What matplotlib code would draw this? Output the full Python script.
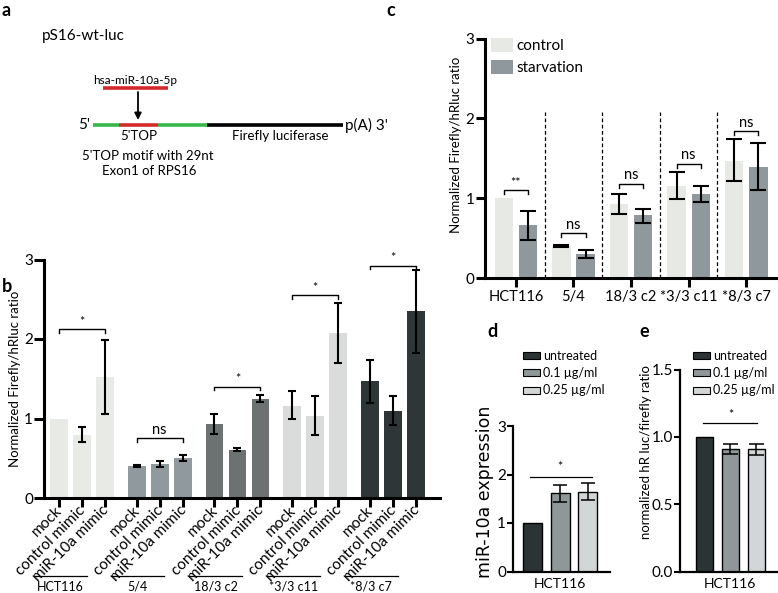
import matplotlib
matplotlib.use('Agg')
import matplotlib.pyplot as plt
from matplotlib.patches import Patch
from matplotlib import font_manager
import numpy as np

plt.rcParams['font.family'] = ['Lato', 'DejaVu Sans']

# ---------------- data ----------------
b_groups = ['HCT116', '5/4', '18/3 c2', '*3/3 c11', '*8/3 c7']
b_conditions = ['mock', 'control mimic', 'miR-10a mimic']
b_means = [[1.00, 0.79, 1.52], [0.40, 0.43, 0.50], [0.93, 0.61, 1.25],
           [1.16, 1.03, 2.07], [1.47, 1.10, 2.35]]
b_lo = [[1.00, 0.70, 1.06], [0.39, 0.39, 0.46], [0.81, 0.59, 1.21],
        [1.00, 0.79, 1.70], [1.20, 0.92, 1.83]]
b_hi = [[1.00, 0.89, 1.99], [0.41, 0.47, 0.54], [1.06, 0.63, 1.29],
        [1.34, 1.28, 2.45], [1.74, 1.28, 2.87]]
b_sig = ['*', 'ns', '*', '*', '*']
b_sig_y = [2.12, 0.75, 1.40, 2.55, 2.92]
b_colors = ['#e8eae5', '#8f999e', '#6c7272', '#d9dcdb', '#2e3637']

c_groups = ['HCT116', '5/4', '18/3 c2', '*3/3 c11', '*8/3 c7']
c_series = ['control', 'starvation']
c_control = [1.00, 0.40, 0.93, 1.15, 1.47]
c_control_lo = [1.00, 0.385, 0.80, 0.99, 1.21]
c_control_hi = [1.00, 0.415, 1.05, 1.33, 1.74]
c_starv = [0.67, 0.30, 0.79, 1.05, 1.39]
c_starv_lo = [0.47, 0.25, 0.69, 0.95, 1.10]
c_starv_hi = [0.84, 0.35, 0.87, 1.15, 1.69]
c_sig = ['**', 'ns', 'ns', 'ns', 'ns']
c_sig_y = [1.10, 0.56, 1.18, 1.43, 1.84]
c_colors = ['#e7eae4', '#8e989d']

dose_labels = ['untreated', '0.1 µg/ml', '0.25 µg/ml']
dose_colors = ['#2b3335', '#8f9798', '#d3d6d6']
d_means = [1.00, 1.61, 1.64]
d_lo = [1.00, 1.43, 1.47]
d_hi = [1.00, 1.79, 1.82]
d_sig_y = 1.95
e_means = [1.00, 0.907, 0.907]
e_lo = [1.00, 0.870, 0.868]
e_hi = [1.00, 0.946, 0.948]
e_sig_y = 1.10

# ---------------- figure ----------------
W, H = 778, 593
fig = plt.figure(figsize=(W / 100, H / 100), dpi=100)


def px_axes(l, t, r, b):
    return fig.add_axes([l / W, 1 - b / H, (r - l) / W, (b - t) / H])


def err_pts(ax, x, means, lo, hi, lw, cap):
    x = np.asarray(x, float)
    m = np.asarray(means, float)
    lo = np.asarray(lo, float)
    hi = np.asarray(hi, float)
    keep = hi > lo
    ax.errorbar(x[keep], m[keep], yerr=[m[keep] - lo[keep], hi[keep] - m[keep]],
                fmt='none', ecolor='black', elinewidth=lw, capsize=cap,
                capthick=lw, zorder=3)


# ---------------- panel a (diagram) ----------------
axa = fig.add_axes([0, 0, 1, 1])
axa.set_xlim(0, W)
axa.set_ylim(H, 0)
axa.axis('off')
axa.patch.set_alpha(0)

axa.text(42, 36, 'pS16-wt-luc', fontsize=11, va='center', ha='left')
axa.text(135, 80, 'hsa-miR-10a-5p', fontsize=8.5, va='center', ha='center')
axa.plot([103, 168], [88, 88], color='#d42a2a', lw=2.6, solid_capstyle='butt')
axa.annotate('', xy=(138, 120), xytext=(138, 92),
             arrowprops=dict(arrowstyle='-|>', color='black', lw=1.3,
                             mutation_scale=10, shrinkA=0, shrinkB=0))
axa.plot([93, 119], [125, 125], color='#35b84a', lw=2.6, solid_capstyle='butt')
axa.plot([119, 158], [125, 125], color='#d42a2a', lw=2.6, solid_capstyle='butt')
axa.plot([158, 207], [125, 125], color='#35b84a', lw=2.6, solid_capstyle='butt')
axa.plot([207, 343], [125, 125], color='black', lw=2.6, solid_capstyle='butt')
axa.text(90, 125, "5'", fontsize=11, va='center', ha='right')
axa.text(345, 125, "p(A) 3'", fontsize=11, va='center', ha='left')
axa.text(139, 136, "5'TOP", fontsize=9.5, va='center', ha='center')
axa.text(280, 136, 'Firefly luciferase', fontsize=9.5, va='center', ha='center')
axa.text(148, 156, "5'TOP motif with 29nt", fontsize=9.5, va='center', ha='center')
axa.text(149, 171, 'Exon1 of RPS16', fontsize=9.5, va='center', ha='center')

# panel letters
for lab, (x, y) in zip('abcde', [(2, 10), (2, 287), (386, 10), (487, 332), (639, 332)]):
    fig.text(x / W, 1 - y / H, lab, fontsize=13, fontweight='bold', va='center', ha='left')

# ---------------- panel b ----------------
axb = px_axes(44, 259.5, 440, 498)
gstep = 3.38
xb_all, lab_all = [], []
for i, g in enumerate(b_groups):
    xs = i * gstep + np.arange(3)
    axb.bar(xs, b_means[i], width=0.78, color=b_colors[i], zorder=2)
    err_pts(axb, xs, b_means[i], b_lo[i], b_hi[i], 1.5, 3.2)
    xb_all += list(xs)
    lab_all += b_conditions
    y = b_sig_y[i]
    axb.plot([xs[0], xs[0], xs[2], xs[2]], [y - 0.045, y, y, y - 0.045],
             color='black', lw=1.0, clip_on=False)
    if b_sig[i] == 'ns':
        axb.text((xs[0] + xs[2]) / 2, y + 0.02, 'ns', fontsize=10.5,
                 ha='center', va='bottom', clip_on=False)
    else:
        axb.text((xs[0] + xs[2]) / 2, y + 0.02, '*', fontsize=9,
                 ha='center', va='bottom', clip_on=False)
    cx = xs[1] - 0.95
    trans = axb.get_xaxis_transform()
    axb.plot([cx - 1.15, cx + 1.15], [-0.329, -0.329], transform=trans,
             color='black', lw=0.9, clip_on=False)
    axb.text(cx, -0.347, g, transform=trans, fontsize=9, ha='center', va='top')

axb.set_xlim((44 - 59) / 23, (440 - 59) / 23)
axb.set_ylim(0, 3)
axb.set_yticks([0, 1, 2, 3])
axb.set_xticks(xb_all)
axb.set_xticklabels(lab_all, rotation=45, ha='right', va='center_baseline',
                    rotation_mode='anchor', fontsize=7.3)
for s in ['top', 'right']:
    axb.spines[s].set_visible(False)
for s in ['left', 'bottom']:
    axb.spines[s].set_linewidth(2.2)
axb.tick_params(axis='both', direction='out', length=7, width=2.2, labelsize=11, pad=1)
axb.tick_params(axis='x', length=6.5, pad=0)
axb.set_ylabel('Normalized Firefly/hRluc ratio', fontsize=9.5)
axb.yaxis.set_label_coords(-0.058, 0.5)

# ---------------- panel c ----------------
axc = px_axes(485, 38.5, 777, 278)
xc = np.arange(len(c_groups))
off = 0.21
axc.bar(xc - off, c_control, width=0.32, color=c_colors[0], zorder=2, label=c_series[0])
axc.bar(xc + off, c_starv, width=0.32, color=c_colors[1], zorder=2, label=c_series[1])
err_pts(axc, xc - off, c_control, c_control_lo, c_control_hi, 1.5, 5.8)
err_pts(axc, xc + off, c_starv, c_starv_lo, c_starv_hi, 1.5, 5.8)
axc.vlines(xc[:-1] + 0.5, 0, 2.08, colors='black', linestyles=(0, (3, 2)), lw=0.9)
for i in range(len(c_groups)):
    y = c_sig_y[i]
    axc.plot([xc[i] - off, xc[i] - off, xc[i] + off, xc[i] + off],
             [y - 0.05, y, y, y - 0.05], color='black', lw=1.0)
    axc.text(xc[i], y + 0.02, c_sig[i], fontsize=10.5 if c_sig[i] == 'ns' else 9,
             ha='center', va='bottom')
axc.set_xlim((485 - 515.85) / 57.6, (777 - 515.85) / 57.6)
axc.set_ylim(0, 3)
axc.set_yticks([0, 1, 2, 3])
axc.set_xticks(xc)
axc.set_xticklabels(c_groups, fontsize=10.5)
for s in ['top', 'right']:
    axc.spines[s].set_visible(False)
for s in ['left', 'bottom']:
    axc.spines[s].set_linewidth(2.2)
axc.tick_params(axis='both', direction='out', length=6.5, width=2.2, labelsize=11, pad=1)
axc.tick_params(axis='x', labelsize=10.5, pad=2)
axc.set_ylabel('Normalized Firefly/hRluc ratio', fontsize=9.5)
axc.yaxis.set_label_coords(-0.08, 0.555)
axc.legend(loc='upper left', bbox_to_anchor=(491 / W, 1 - 38 / H),
           bbox_transform=fig.transFigure, frameon=False, fontsize=11,
           handlelength=1.45, handleheight=1.0, handletextpad=0.2,
           labelspacing=0.45, borderpad=0, borderaxespad=0)

# ---------------- panel d ----------------
axd = px_axes(513, 426, 610, 571.5)
xd = np.arange(3)
axd.bar(xd, d_means, width=0.69, color=dose_colors, edgecolor='black', lw=1.0, zorder=2)
err_pts(axd, xd, d_means, d_lo, d_hi, 1.1, 4.7)
axd.plot([xd[0] - 0.1, xd[2] + 0.15], [d_sig_y, d_sig_y], color='black', lw=0.9)
axd.text((xd[0] + xd[2]) / 2, d_sig_y + 0.08, '*', fontsize=9, ha='center', va='bottom')
axd.set_xlim((513 - 532.5) / 27.7, (610 - 532.5) / 27.7)
axd.set_ylim(0, 3)
axd.set_yticks([0, 1, 2, 3])
axd.set_xticks([1])
axd.set_xticklabels(['HCT116'], fontsize=10)
axd.tick_params(axis='x', length=0, pad=5)
axd.tick_params(axis='y', direction='out', length=4, width=1.5, labelsize=11, pad=1)
for s in ['top', 'right']:
    axd.spines[s].set_visible(False)
for s in ['left', 'bottom']:
    axd.spines[s].set_linewidth(1.6)
dv_path = font_manager.findfont(font_manager.FontProperties(family='DejaVu Sans'))
dv_font = font_manager.FontProperties(fname=dv_path, size=12.5)
axd.set_ylabel('miR-10a expression', fontproperties=dv_font)
axd.yaxis.set_label_coords(-0.2, 0.55)
hd = [Patch(facecolor=c, edgecolor='black', lw=0.8) for c in dose_colors]
axd.legend(hd, dose_labels, loc='upper left', bbox_to_anchor=(523 / W, 1 - 350 / H),
           bbox_transform=fig.transFigure, frameon=False, fontsize=9,
           handlelength=1.35, handleheight=0.5, handletextpad=0.25,
           labelspacing=0.42, borderpad=0, borderaxespad=0)

# ---------------- panel e ----------------
axe = px_axes(680, 369.5, 777, 571.5)
xe = np.arange(3)
axe.bar(xe, e_means, width=0.66, color=dose_colors, edgecolor='black', lw=1.0, zorder=2)
err_pts(axe, xe, e_means, e_lo, e_hi, 1.1, 5.4)
axe.plot([xe[0] - 0.07, xe[2] + 0.03], [e_sig_y, e_sig_y], color='black', lw=0.9)
axe.text((xe[0] + xe[2]) / 2, e_sig_y + 0.02, '*', fontsize=9, ha='center', va='bottom')
axe.set_xlim((680 - 704.7) / 25.7, (777 - 704.7) / 25.7)
axe.set_ylim(0, 1.5)
axe.set_yticks([0, 0.5, 1.0, 1.5])
axe.set_yticklabels(['0.0', '0.5', '1.0', '1.5'])
axe.set_xticks([1])
axe.set_xticklabels(['HCT116'], fontsize=10)
axe.tick_params(axis='x', length=0, pad=5)
axe.tick_params(axis='y', direction='out', length=4, width=1.5, labelsize=11, pad=1)
for s in ['top', 'right']:
    axe.spines[s].set_visible(False)
for s in ['left', 'bottom']:
    axe.spines[s].set_linewidth(1.6)
axe.set_ylabel('normalized hR luc/firefly ratio', fontsize=9.5)
axe.yaxis.set_label_coords(-0.289, 0.59)
he = [Patch(facecolor=c, edgecolor='black', lw=0.8) for c in dose_colors]
axe.legend(he, dose_labels, loc='upper left', bbox_to_anchor=(693 / W, 1 - 350 / H),
           bbox_transform=fig.transFigure, frameon=False, fontsize=9,
           handlelength=1.35, handleheight=0.5, handletextpad=0.25,
           labelspacing=0.42, borderpad=0, borderaxespad=0)

fig.savefig('out.png', dpi=100)
